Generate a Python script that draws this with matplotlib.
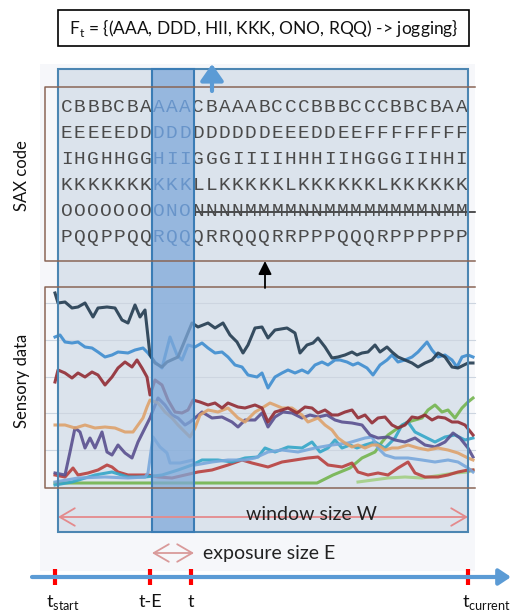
import matplotlib
matplotlib.use("Agg")
import matplotlib.pyplot as plt
from matplotlib.patches import Rectangle

plt.rcParams['font.family'] = ['Lato', 'DejaVu Sans']

# regla SAX: simbolos antes / dentro / despues de la ventana de exposicion
sax_before = ["CBBBCBA", "EEEEEDD", "IHGHHGG", "KKKKKKK", "OOOOOOO", "PQQPPQQ"]
sax_window = ["AAA", "DDD", "HII", "KKK", "ONO", "RQQ"]
sax_after = ["CBAAABCCCBBBCCCBBCBAA", "DDDDDDEEEDDEEFFFFFFFF", "GGGIIIIHHHIIHGGGIIHHI",
             "LLKKKKKLKKKKKKLKKKKKK", "NNNNMMMMNNMMMMMMMMNMM", "QRRQQQRRPPPQQQRPPPPPP"]
rule_text = "F$_{\\mathregular{t}}$ = {(AAA, DDD, HII, KKK, ONO, RQQ) -> jogging}"

# datos de sensores: pares (tiempo, valor)
navy = [(10,195),(13,185),(20,186),(27,180),(33,181),(40,185),(48,171),(53,180),(62,181),(70,180),
        (77,168),(83,165),(90,183),(95,171),(100,178),(105,133),(110,125),(117,121),(122,126),(133,131),
        (140,148),(147,165),(153,161),(163,165),(170,160),(178,165),(185,153),(192,146),(198,135),(203,143),
        (210,160),(217,161),(223,150),(230,158),(242,160),(250,155),(255,135),(262,143),(268,145),(273,150),
        (280,141),(287,130),(293,131),(300,133),(307,136),(312,133),(317,135),(323,136),(330,143),(335,136),
        (342,141),(347,136),(353,131),(360,128),(367,125),(373,121),(380,125),(387,128),(393,135),(400,131),
        (407,121),(413,120),(423,125),(428,125)]
blue = [(10,151),(15,153),(20,146),(27,145),(33,146),(40,141),(47,140),(53,136),(60,131),(67,133),
        (73,136),(83,135),(90,138),(98,140),(103,135),(110,126),(117,120),(125,151),(132,133),(137,128),
        (143,143),(150,141),(157,145),(163,140),(170,135),(177,136),(183,131),(190,123),(197,121),(203,113),
        (212,111),(217,115),(223,100),(230,111),(237,115),(243,118),(250,115),(257,118),(263,115),(270,123),
        (277,126),(283,123),(290,128),(295,128),(302,126),(308,123),(313,125),(322,120),(328,113),(335,123),
        (342,128),(347,133),(353,126),(360,128),(367,131),(373,136),(382,146),(387,138),(393,131),(400,133),
        (407,128),(412,121),(417,131),(423,133),(428,131)]
dark_red = [(10,106),(13,118),(20,115),(27,110),(33,115),(40,111),(47,116),(53,113),(60,103),(67,111),
            (73,120),(80,126),(87,121),(92,128),(97,120),(102,111),(105,93),(110,108),(117,103),(123,88),
            (130,76),(137,75),(143,78),(148,88),(155,86),(163,83),(170,85),(177,80),(183,85),(193,81),
            (200,80),(210,83),(217,80),(223,66),(230,76),(237,78),(243,80),(252,75),(260,81),(267,80),
            (273,75),(280,78),(287,73),(293,73),(300,76),(307,78),(313,70),(320,73),(327,65),(333,70),
            (340,71),(347,63),(353,60),(360,63),(367,71),(373,70),(380,73),(387,68),(393,71),(400,70),
            (407,66),(413,66),(420,63),(428,53)]
orange = [(10,63),(20,63),(30,60),(40,63),(50,60),(60,61),(70,60),(80,56),(88,56),(93,63),
          (98,70),(102,81),(105,88),(113,85),(120,76),(127,70),(133,63),(140,56),(145,51),(150,60),
          (155,73),(163,78),(173,76),(183,80),(193,70),(200,66),(210,76),(217,80),(225,85),(230,83),
          (237,80),(247,80),(257,73),(263,66),(273,70),(280,63),(287,58),(293,50),(300,45),(307,41),
          (313,43),(320,40),(327,43),(333,43),(340,38),(347,40),(353,40),(363,43),(373,40),(383,38),
          (393,40),(403,38),(413,35),(423,30),(428,28)]
purple = [(10,15),(20,13),(25,36),(30,60),(35,56),(40,40),(45,50),(50,40),(57,56),(62,36),
          (67,33),(73,43),(80,35),(87,30),(93,46),(100,60),(105,70),(113,90),(120,83),(127,73),
          (133,70),(140,63),(145,66),(150,70),(157,76),(167,70),(177,71),(187,66),(193,61),(200,68),
          (210,68),(217,75),(223,61),(230,71),(238,76),(247,75),(257,70),(265,73),(273,71),(282,73),
          (290,68),(297,66),(307,65),(317,63),(325,53),(333,50),(343,51),(350,48),(360,46),(370,50),
          (380,43),(390,41),(400,46),(408,55),(415,50),(423,40),(428,31)]
cornflower = [(10,6),(33,10),(60,11),(83,10),(100,11),(103,15),(108,51),(115,41),(122,35),(125,25),
              (135,25),(148,28),(150,23),(167,26),(183,28),(200,28),(210,30),(223,36),(237,38),(253,36),
              (270,40),(287,43),(303,45),(320,50),(327,51),(333,40),(340,33),(350,30),(363,30),(377,28),
              (390,26),(403,28),(413,26),(423,20),(428,16)]
teal = [(10,3),(27,6),(50,13),(67,16),(83,11),(100,11),(117,13),(133,18),(147,23),(157,28),
        (173,28),(187,26),(200,30),(213,31),(220,40),(230,36),(243,41),(257,40),(267,46),(275,36),
        (283,40),(290,48),(297,40),(305,43),(312,40),(320,43),(330,46),(340,40),(350,50),(357,63),
        (363,66),(370,56),(380,51),(390,46),(400,51),(410,53),(420,48),(428,50)]
red = [(10,13),(20,11),(28,20),(33,13),(43,15),(53,18),(62,23),(67,21),(73,16),(83,13),
       (93,13),(103,13),(113,11),(127,10),(140,13),(153,16),(167,18),(183,23),(197,28),(207,25),
       (215,23),(223,21),(237,26),(250,28),(263,30),(273,31),(283,23),(297,21),(307,25),(313,16),
       (323,13),(333,15),(343,13),(353,20),(363,26),(370,15),(380,11),(393,11),(403,13),(413,16),
       (423,18),(428,18)]
green = [(10,5),(272,5),(288,13),(305,20),(317,30),(330,36),(337,46),(343,53),(353,60),(363,66),
         (377,70),(383,78),(390,83),(397,76),(403,78),(410,70),(417,80),(423,86),(428,90)]
light_green = [(313,6),(343,10),(360,11),(377,10),(397,13),(410,15),(423,16),(428,18)]

series = [(light_green, '#a3cf84'), (green, '#74b54f'), (red, '#b8403e'), (teal, '#33a6c8'),
          (cornflower, '#78a8dc'), (purple, '#59508f'), (orange, '#dea26c'),
          (dark_red, '#922c34'), (blue, '#3e8dd0'), (navy, '#233b50')]

W, H = 511, 612
fig = plt.figure(figsize=(W / 100, H / 100), dpi=100)

# capa de fondo
base = fig.add_axes([0, 0, 1, 1], zorder=0)
base.set_xlim(0, W)
base.set_ylim(H, 0)
base.axis('off')
base.add_patch(Rectangle((40, 64), 435, 507, facecolor='#f6f7fa', edgecolor='none'))
base.add_patch(Rectangle((58, 69), 410, 463, facecolor='#dbe3ec', edgecolor='none'))
for gy in [303, 340, 377, 413, 450]:
    base.plot([45, 475], [gy, gy], color='#cdd5e0', lw=0.8)

# texto SAX
pitch = 13.16
row_y = [107, 133, 160, 186, 212, 238]
for r in range(6):
    chunks = [(sax_before[r], '#4a4a4a'), (sax_window[r], '#25589a'), (sax_after[r], '#4a4a4a')]
    i = 0
    for txt, col in chunks:
        for ch in txt:
            base.text(60 + (i + 0.5) * pitch, row_y[r], ch, family='Liberation Mono', fontsize=14,
                      color=col, ha='center', va='center')
            i += 1
base.plot([194, 475], [212, 212], color='#222222', lw=1.1)

# datos sensoriales
dax = fig.add_axes([45 / W, 1 - 488 / H, 430 / W, 201 / H], zorder=1)
dax.patch.set_alpha(0)
dax.set_xlim(0, 430)
dax.set_ylim(0, 201)
dax.axis('off')
for pts, col in series:
    dax.plot([p[0] for p in pts], [p[1] for p in pts], color=col, lw=2.2, alpha=0.9,
             solid_joinstyle='round')

# capa superior
top = fig.add_axes([0, 0, 1, 1], zorder=2)
top.patch.set_alpha(0)
top.set_xlim(0, W)
top.set_ylim(H, 0)
top.axis('off')

top.add_patch(Rectangle((58, 9.5), 411, 36, facecolor='white', edgecolor='black', lw=1.2))
top.text(263.5, 28, rule_text, fontsize=12.5, ha='center', va='center', color='#111111')

# cajas SAX / sensores (marron, abiertas a la derecha)
for y0, y1 in [(87, 261), (287, 488)]:
    top.plot([475, 45, 45, 475], [y0, y0, y1, y1], color='#8a6656', lw=1.1)

top.add_patch(Rectangle((58, 69), 410, 463, facecolor='none', edgecolor='#4c86b2', lw=1.5))
top.add_patch(Rectangle((152, 69), 42, 463, facecolor='#7fa9da', alpha=0.75, edgecolor='none'))
top.add_patch(Rectangle((152, 69), 42, 463, facecolor='none', edgecolor='#3a7cb5', lw=1.5))

top.annotate('', xy=(212, 64), xytext=(212, 91),
             arrowprops=dict(arrowstyle='-|>,head_length=0.5,head_width=0.35', color='#5b9bd5',
                             lw=3, mutation_scale=20, shrinkA=0, shrinkB=0))
top.annotate('', xy=(265, 261), xytext=(265, 288),
             arrowprops=dict(arrowstyle='-|>,head_length=0.5,head_width=0.25', color='black',
                             lw=1.3, mutation_scale=16, shrinkA=0, shrinkB=0))

top.text(22, 176, 'SAX code', rotation=90, fontsize=12, ha='center', va='center', color='#111111')
top.text(22, 381, 'Sensory data', rotation=90, fontsize=12, ha='center', va='center', color='#111111')

top.annotate('', xy=(58, 517), xytext=(468, 517),
             arrowprops=dict(arrowstyle='<->,head_length=0.6,head_width=0.35', color='#e48a8c',
                             lw=1.3, mutation_scale=18, shrinkA=0, shrinkB=0))
top.text(311, 515, 'window size W', fontsize=14, ha='center', va='center', color='#222222')

top.annotate('', xy=(152, 553), xytext=(194, 553),
             arrowprops=dict(arrowstyle='<->,head_length=0.6,head_width=0.35', color='#d99a9a',
                             lw=1.3, mutation_scale=18, shrinkA=0, shrinkB=0))
top.text(203, 553, 'exposure size E', fontsize=14, ha='left', va='center', color='#222222')

# linea de tiempo
top.annotate('', xy=(511, 577), xytext=(32, 577),
             arrowprops=dict(arrowstyle='-|>,head_length=0.6,head_width=0.4', color='#5b9bd5',
                             lw=3, mutation_scale=12, shrinkA=0, shrinkB=0))
tick_x = [55, 150, 191, 468]
tick_lab = ['t$_{\\mathregular{start}}$', 't-E', 't', 't$_{\\mathregular{current}}$']
tick_off = [8, 0, 0, 18]
for tx, tl, off in zip(tick_x, tick_lab, tick_off):
    top.plot([tx, tx], [569, 585], color='#ff0000', lw=3, solid_capstyle='butt')
    top.text(tx + off, 602, tl, fontsize=13, ha='center', va='center', color='#111111')

fig.savefig('out.png', dpi=100)
